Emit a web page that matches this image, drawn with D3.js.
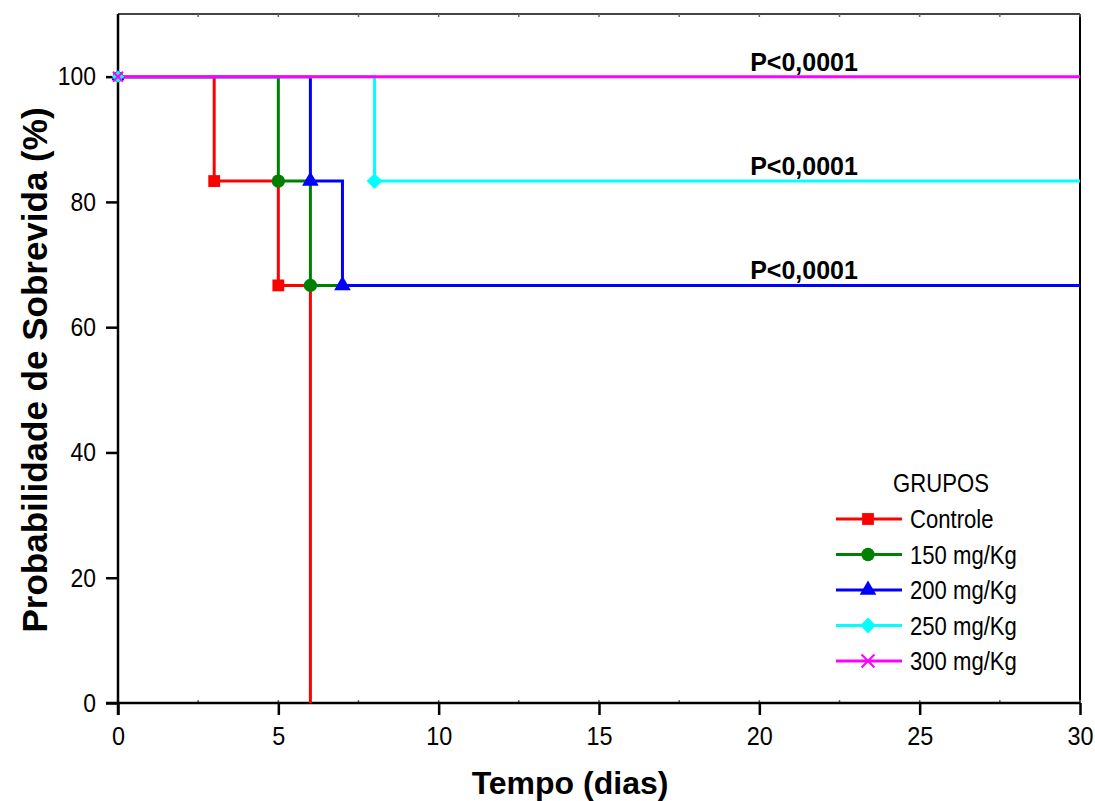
<!DOCTYPE html>
<html>
<head>
<meta charset="utf-8">
<script src="https://cdn.jsdelivr.net/npm/d3@7"></script>
<style>
  body { margin: 0; background: #fff; }
  text { font-family: "Liberation Sans", Arial, sans-serif; }
  .pval { font-weight: bold; }
</style>
</head>
<body>
<div id="chart"></div>
<script>
// groups and their Kaplan-Meier steps (time in days, survival in %)
var grupos = ["Controle", "150 mg/Kg", "200 mg/Kg", "250 mg/Kg", "300 mg/Kg"];
var cores = ["#ff0000", "#008000", "#0000ff", "#00ffff", "#ff00ff"];
var tempos = [[0, 3, 5, 6], [0, 5, 6], [0, 6, 7], [0, 8], [0]];
var sobrevida = [[100, 83.33, 66.67, 0], [100, 83.33, 66.67], [100, 83.33, 66.67], [100, 83.33], [100]];
var fimCurva = [6, 30, 30, 30, 30];
var xTicks = [0, 5, 10, 15, 20, 25, 30];
var yTicks = [0, 20, 40, 60, 80, 100];
var pValores = ["P<0,0001", "P<0,0001", "P<0,0001"];
var pNivel = [100, 83.33, 66.67];

var width = 1095, height = 801;
var mEsq = 118, mDir = 1080, mTopo = 14, mBase = 703;

var svg = d3.select("#chart").append("svg")
    .attr("width", width)
    .attr("height", height);

var x = d3.scaleLinear().domain([0, 30]).range([mEsq, mDir]);
var y = d3.scaleLinear().domain([0, 110]).range([mBase, mTopo]);

// squeeze text horizontally to mimic the narrow font of the original
function estreitar(sel, f) {
  sel.each(function() {
    var w = this.getComputedTextLength();
    d3.select(this).attr("textLength", w * f).attr("lengthAdjust", "spacingAndGlyphs");
  });
}

// frame
svg.append("line").attr("x1", mEsq).attr("x2", mDir).attr("y1", mTopo).attr("y2", mTopo)
    .attr("stroke", "#444").attr("stroke-width", 2);
svg.append("line").attr("x1", mDir).attr("x2", mDir).attr("y1", mTopo).attr("y2", mBase)
    .attr("stroke", "#000").attr("stroke-width", 2);

// minor ticks (inside)
d3.range(0, 30.1, 2.5).forEach(function(v) {
  svg.append("line").attr("x1", x(v)).attr("x2", x(v)).attr("y1", mTopo).attr("y2", mTopo + 3)
      .attr("stroke", "#666").attr("stroke-width", 1.5);
  svg.append("line").attr("x1", x(v)).attr("x2", x(v)).attr("y1", mBase).attr("y2", mBase - 3)
      .attr("stroke", "#666").attr("stroke-width", 1.5);
});

var xAxis = svg.append("g")
    .attr("transform", "translate(0," + mBase + ")")
    .call(d3.axisBottom(x).tickValues(xTicks).tickSize(12).tickPadding(12).tickFormat(d3.format("d")));
xAxis.select(".domain").attr("stroke", "#000").attr("stroke-width", 2.5).attr("d", "M" + (mEsq - 12) + ",0H" + mDir);
xAxis.selectAll(".tick line").attr("stroke-width", 2.5);
xAxis.selectAll(".tick text").attr("font-size", 26).attr("fill", "#000")
    .style("font-family", '"Liberation Sans", Arial, sans-serif')
    .call(estreitar, 0.9);

var yAxis = svg.append("g")
    .attr("transform", "translate(" + mEsq + ",0)")
    .call(d3.axisLeft(y).tickValues(yTicks).tickSize(12).tickPadding(10).tickFormat(d3.format("d")));
yAxis.select(".domain").attr("stroke", "#000").attr("stroke-width", 2.5).attr("d", "M0," + mTopo + "V" + (mBase + 12));
yAxis.selectAll(".tick line").attr("stroke-width", 2.5);
yAxis.selectAll(".tick text").attr("font-size", 26).attr("fill", "#000")
    .style("font-family", '"Liberation Sans", Arial, sans-serif')
    .call(estreitar, 0.88);

// axis titles
svg.append("text")
    .attr("x", 570).attr("y", 794)
    .attr("text-anchor", "middle")
    .attr("font-size", 32).attr("font-weight", "bold")
    .text("Tempo (dias)");
svg.append("text")
    .attr("transform", "translate(47,370) rotate(-90)")
    .attr("text-anchor", "middle")
    .attr("font-size", 35).attr("font-weight", "bold")
    .text("Probabilidade de Sobrevida (%)");

var simbolos = [d3.symbolSquare, d3.symbolCircle, d3.symbolTriangle, d3.symbolSquare, d3.symbolX];
var tamanhos = [140, 140, 120, 125, 110];
var rotacao = [0, 0, 0, 45, 0];

function marcador(g, i, cx, cy, escala) {
  var s = g.append("path")
      .attr("d", d3.symbol().type(simbolos[i]).size(tamanhos[i] * (escala || 1))())
      .attr("transform", "translate(" + cx + "," + cy + ") rotate(" + rotacao[i] + ")");
  if (i === 4) {
    s.attr("fill", "none").attr("stroke", cores[i]).attr("stroke-width", 2);
  } else {
    s.attr("fill", cores[i]);
  }
  return s;
}

var linha = d3.line()
    .x(function(d) { return x(d[0]); })
    .y(function(d) { return y(d[1]); })
    .curve(d3.curveStepAfter);

var curvas = svg.append("g");
grupos.forEach(function(g, i) {
  var pts = tempos[i].map(function(t, j) { return [t, sobrevida[i][j]]; });
  var ultimo = sobrevida[i][sobrevida[i].length - 1];
  var dados = pts.concat(ultimo > 0 ? [[fimCurva[i], ultimo]] : []);
  curvas.append("path")
      .attr("d", linha(dados))
      .attr("fill", "none")
      .attr("stroke", cores[i])
      .attr("stroke-width", 3);
});
grupos.forEach(function(g, i) {
  tempos[i].forEach(function(t, j) {
    if (sobrevida[i][j] <= 0) return;
    marcador(curvas, i, x(t), y(sobrevida[i][j]), t === 0 ? 0.6 : 1);
  });
});

// p values
pValores.forEach(function(p, k) {
  svg.append("text")
      .attr("class", "pval")
      .attr("x", 804).attr("y", y(pNivel[k]) - 6)
      .attr("text-anchor", "middle")
      .attr("font-size", 25)
      .text(p);
});

// legend
var leg = svg.append("g");
leg.append("text")
    .attr("x", 941).attr("y", 492)
    .attr("text-anchor", "middle")
    .attr("font-size", 26)
    .text("GRUPOS")
    .call(estreitar, 0.85);
grupos.forEach(function(g, i) {
  var ly = 519 + i * 35.5;
  leg.append("line").attr("x1", 836).attr("x2", 902).attr("y1", ly).attr("y2", ly)
      .attr("stroke", cores[i]).attr("stroke-width", 3);
  marcador(leg, i, 868, ly, 1);
  leg.append("text")
      .attr("x", 910).attr("y", ly + 9)
      .attr("font-size", 26)
      .text(g)
      .call(estreitar, 0.85);
});
</script>
</body>
</html>
